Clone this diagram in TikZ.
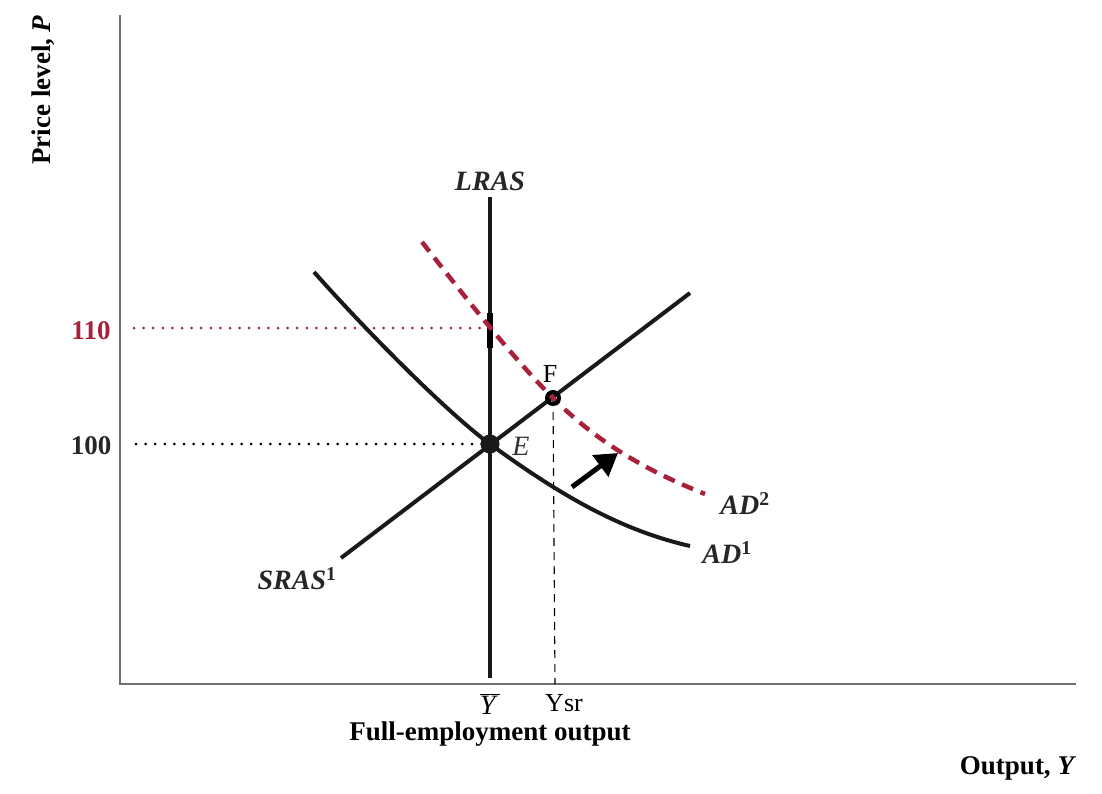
\documentclass[tikz,border=0pt]{standalone}
\usepackage{fontspec}
\setmainfont{Liberation Serif}
\usetikzlibrary{arrows.meta}
\definecolor{adred}{HTML}{A8213A}
\definecolor{axisgray}{HTML}{707070}
\begin{document}
\begin{tikzpicture}[x=1pt,y=-1pt,
  axisline/.style={draw=axisgray,line width=2pt},
  curve/.style={draw=black!90,line width=4pt},
  redcurve/.style={draw=adred,line width=4.5pt,dash pattern=on 12pt off 8pt},
  guide/.style={line width=3pt,dash pattern=on 0pt off 9.6pt,line cap=round},
  lbl/.style={font=\fontsize{28}{30}\selectfont\bfseries\itshape,text=black!85},
  ticklbl/.style={font=\fontsize{27}{30}\selectfont\bfseries},
  plainlbl/.style={font=\fontsize{26}{30}\selectfont}]
\useasboundingbox (0,0) rectangle (1102,793);
% axes
\coordinate (ytop) at (120,15);
\coordinate (orig) at (120,684);
\coordinate (xend) at (1076,684);
\draw[axisline] (ytop) -- (orig) -- (xend);
% guides
\coordinate (g110) at (134,328);
\coordinate (g110e) at (484,328);
\coordinate (g100) at (136,444);
\coordinate (E) at (490,444);
\coordinate (F) at (553,398);
\coordinate (Fdown) at (555,684);
\draw[guide,adred] (g110) -- (g110e);
\draw[guide,black] (g100) -- (E);
\draw[line width=1.1pt,dash pattern=on 8pt off 6pt] (F) -- (Fdown);
% LRAS
\coordinate (lt) at (490,197);
\coordinate (lb) at (490,678);
\draw[curve] (lt) -- (lb);
\draw[line width=5.5pt] (490,313) -- (490,348);
% SRAS
\coordinate (s1) at (341,558);
\coordinate (s2) at (690,293);
\draw[curve] (s1) -- (s2);
% AD1
\draw[curve] (314,272) .. controls (370,335) and (450,415) .. (E)
  .. controls (560,495) and (620,530) .. (690,546);
% AD2
\draw[redcurve] (422,242) .. controls (458,288) and (510,355) .. (F)
  .. controls (600,445) and (650,472) .. (705,494);
% points
\fill[black!90] (E) circle (9.5);
\draw[black,line width=4pt] (F) circle (6);
% arrow
\coordinate (a1) at (572,487);
\coordinate (a2) at (618,453);
\draw[line width=5pt,-{Triangle[length=22pt,width=26pt]}] (a1) -- (a2);
% labels
\node[lbl] (LRAS) at (490,181) {LRAS};
\node[plainlbl] (Flbl) at (550,374) {F};
\node[font=\fontsize{28}{30}\selectfont\itshape,text=black!80] (Elbl) at (521,446) {E};
\node[lbl] (AD2) at (745,504) {AD\textsuperscript{\normalfont\bfseries 2}};
\node[lbl] (AD1) at (727,553) {AD\textsuperscript{\normalfont\bfseries 1}};
\node[lbl] (SRAS) at (297,579) {SRAS\textsuperscript{\normalfont\bfseries 1}};
\node[ticklbl,text=adred] (t110) at (91,331) {110};
\node[ticklbl,text=black!85] (t100) at (91,446) {100};
\node[font=\fontsize{28}{30}\selectfont\itshape] (Ybar) at (490,704) {$\overline{\mbox{\itshape Y\,}}$};
\node[plainlbl] (Ysr) at (564,703) {Ysr};
\node[ticklbl] (full) at (490,734) {Full-employment output};
\node[ticklbl] (outY) at (1018,768) {Output, \textit{Y}};
\node[ticklbl,rotate=90] (priceP) at (43,90) {Price level, \textit{P}};
\end{tikzpicture}
\end{document}
